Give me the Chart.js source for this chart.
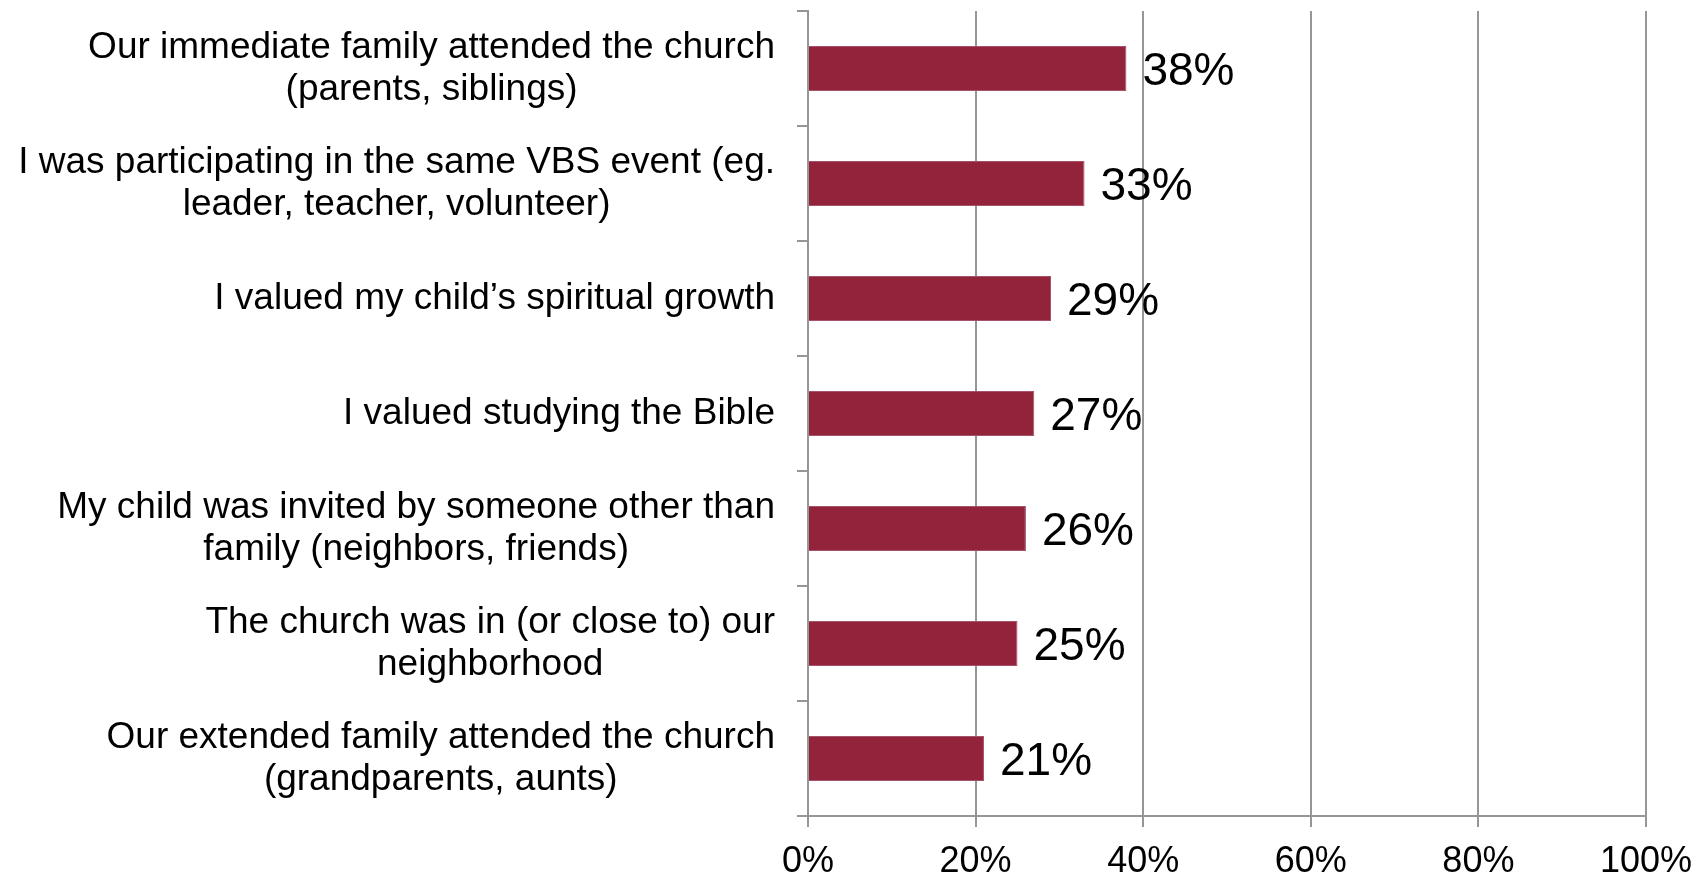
<!DOCTYPE html>
<html>
<head>
<meta charset="utf-8">
<script src="https://cdn.jsdelivr.net/npm/chart.js@4/dist/chart.umd.min.js"></script>
<style>
  html, body { margin: 0; padding: 0; background: #fff; }
  #wrap { width: 1698px; height: 878px; }
</style>
</head>
<body>
<div id="wrap"><canvas id="reasonsChart" width="1698" height="878"></canvas></div>
<script>
const categories = [
    ['Our immediate family attended the church', '(parents, siblings)'],
    ['I was participating in the same VBS event (eg.', 'leader, teacher, volunteer)'],
    ['I valued my child\u2019s spiritual growth'],
    ['I valued studying the Bible'],
    ['My child was invited by someone other than', 'family (neighbors, friends)'],
    ['The church was in (or close to) our', 'neighborhood'],
    ['Our extended family attended the church', '(grandparents, aunts)']
];
const percentValues = [38, 33, 29, 27, 26, 25, 21];
const xTicks = [0, 20, 40, 60, 80, 100];

const fontFamily = '"Liberation Sans", Arial, sans-serif';
const gridColor = '#969696';

// wrapped category labels: block right-aligned to the axis, lines centred inside the block
const categoryLabels = {
    id: 'categoryLabels',
    afterDraw: (chart) => {
        const ctx = chart.ctx;
        const yScale = chart.scales.y;
        const right = chart.chartArea.left - 33;
        const lineH = 42;
        ctx.save();
        ctx.font = '37px ' + fontFamily;
        ctx.fillStyle = '#000';
        ctx.textAlign = 'center';
        ctx.textBaseline = 'middle';
        categories.forEach((lines, i) => {
            const cy = yScale.getPixelForValue(i);
            const maxW = Math.max(...lines.map(l => ctx.measureText(l).width));
            const cx = right - maxW / 2;
            const startY = cy - (lines.length - 1) * lineH / 2;
            lines.forEach((line, j) => ctx.fillText(line, cx, startY + j * lineH));
        });
        ctx.restore();
    }
};

// value labels at the end of each bar
const valueLabels = {
    id: 'valueLabels',
    afterDatasetsDraw: (chart) => {
        const ctx = chart.ctx;
        const meta = chart.getDatasetMeta(0);
        ctx.save();
        ctx.font = '46px ' + fontFamily;
        ctx.fillStyle = '#000';
        ctx.textAlign = 'left';
        ctx.textBaseline = 'middle';
        meta.data.forEach((bar, i) => {
            ctx.fillText(percentValues[i] + '%', bar.x + 16, bar.y + 4);
        });
        ctx.restore();
    }
};

const chart = new Chart(document.getElementById('reasonsChart').getContext('2d'), {
    type: 'bar',
    data: {
        labels: categories,
        datasets: [{
            data: percentValues,
            backgroundColor: '#93233b',
            borderColor: '#a5526a',
            borderWidth: 1,
            categoryPercentage: 1,
            barPercentage: 0.39
        }]
    },
    options: {
        indexAxis: 'y',
        responsive: false,
        animation: false,
        layout: {
            padding: { top: 11, right: 52, bottom: 0, left: 0 }
        },
        scales: {
            x: {
                min: 0,
                max: 100,
                afterBuildTicks: (scale) => {
                    scale.ticks = xTicks.map(v => ({ value: v }));
                },
                afterFit: (scale) => {
                    scale.height = 62;
                    scale.paddingLeft = 0;
                    scale.paddingRight = 0;
                },
                grid: {
                    color: gridColor,
                    lineWidth: 2,
                    drawTicks: true,
                    tickLength: 11
                },
                border: { display: true, color: gridColor, width: 2 },
                ticks: {
                    color: '#000',
                    padding: 13,
                    maxRotation: 0,
                    font: { family: fontFamily, size: 36 },
                    callback: (value) => value + '%'
                }
            },
            y: {
                afterFit: (scale) => { scale.width = 808; },
                grid: {
                    offset: true,
                    drawOnChartArea: false,
                    drawTicks: true,
                    tickLength: 11,
                    color: gridColor,
                    lineWidth: 2
                },
                border: { display: true, color: gridColor, width: 2 },
                ticks: { display: false }
            }
        },
        plugins: {
            legend: { display: false },
            tooltip: { enabled: false }
        }
    },
    plugins: [categoryLabels, valueLabels]
});
</script>
</body>
</html>
